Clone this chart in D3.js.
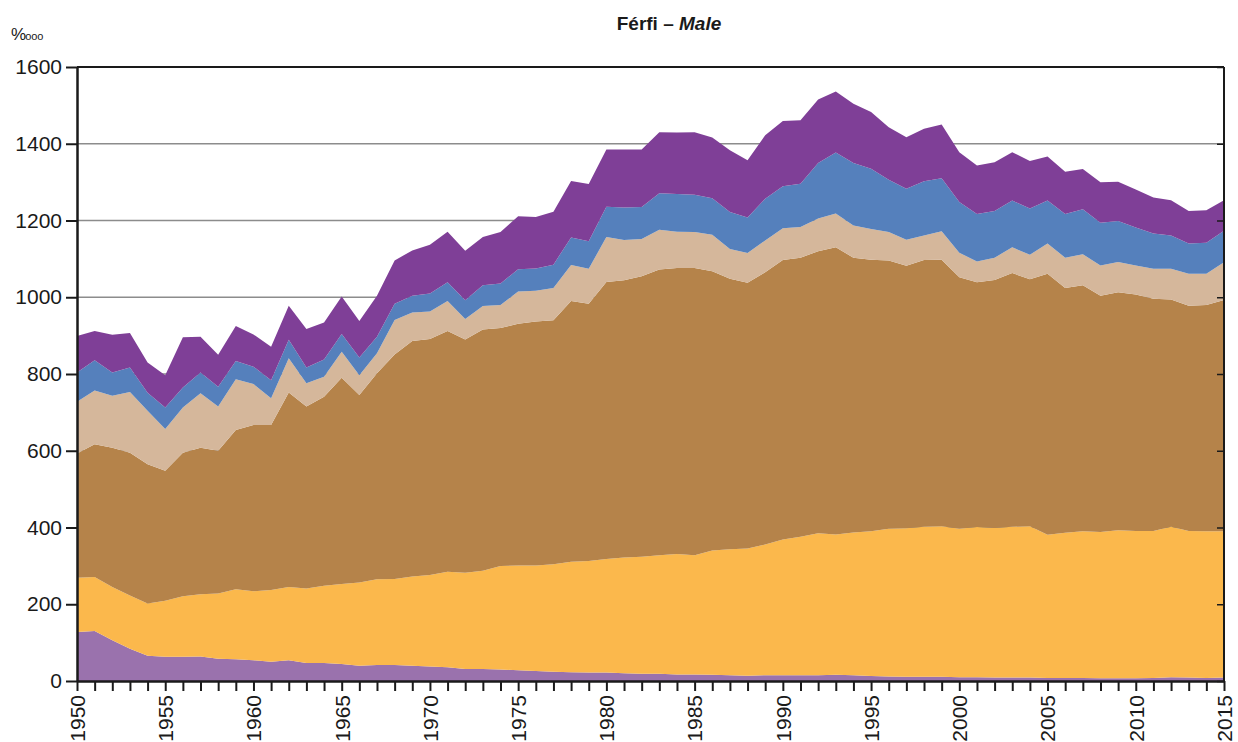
<!DOCTYPE html>
<html>
<head>
<meta charset="utf-8">
<script src="https://cdn.jsdelivr.net/npm/d3@7/dist/d3.min.js"></script>
<style>
  html, body { margin: 0; padding: 0; background: #fff; }
  svg { display: block; }
  .lbl { font-family: "Liberation Sans Narrow", "Arial Narrow", "Liberation Sans", Arial, sans-serif; fill: #1a1a1a; }
</style>
</head>
<body>
<svg id="chart" width="1238" height="742"></svg>
<script>
// Years on the horizontal axis
const years = [
  1950,1951,1952,1953,1954,1955,1956,1957,1958,1959,
  1960,1961,1962,1963,1964,1965,1966,1967,1968,1969,
  1970,1971,1972,1973,1974,1975,1976,1977,1978,1979,
  1980,1981,1982,1983,1984,1985,1986,1987,1988,1989,
  1990,1991,1992,1993,1994,1995,1996,1997,1998,1999,
  2000,2001,2002,2003,2004,2005,2006,2007,2008,2009,
  2010,2011,2012,2013,2014,2015
];

// Rates per 100 000, one array per stacked band (bottom to top)
const band1 = [128,130,106,84,66,63,63,64,58,57, 54,50,54,47,47,44,40,42,42,40,
  38,36,31,31,30,28,26,24,23,22, 22,20,19,19,17,17,16,15,14,15,
  15,15,15,16,15,13,12,11,11,11, 10,10,9,9,9,8,8,8,7,7, 7,8,10,9,8,9];
const band2 = [141,141,139,139,136,146,158,162,170,182, 180,187,191,194,201,209,217,223,224,232,
  238,249,251,256,270,273,275,280,288,291, 296,302,305,309,314,311,324,328,331,341,
  354,361,370,366,372,377,385,387,391,392, 387,391,390,393,394,373,378,382,381,386, 384,383,392,382,382,381];
const band3 = [324,346,363,372,363,339,374,382,372,415, 433,430,507,474,493,537,488,537,585,614,
  615,627,608,629,620,630,636,636,679,670, 722,722,731,744,745,748,728,705,693,709,
  728,727,735,748,716,708,699,684,695,695, 655,638,646,661,644,680,638,641,616,620, 616,605,592,587,590,603];
const band4 = [135,140,135,158,139,109,118,142,115,132, 107,70,89,61,52,68,52,52,90,74,
  72,78,53,61,60,84,80,84,94,91, 117,105,97,104,95,94,95,78,77,83,
  83,80,85,88,84,80,74,68,64,74, 64,54,58,67,64,79,79,81,79,79, 76,78,80,83,81,98];
const band5 = [76,79,61,64,47,56,52,54,52,48, 45,47,48,41,45,46,46,43,42,44,
  47,49,49,54,56,58,58,61,72,72, 79,85,83,95,98,97,95,96,93,109,
  109,113,145,159,163,157,136,133,141,138, 132,124,122,122,120,112,114,117,111,107, 99,92,87,79,81,82];
const band6 = [95,76,98,90,79,84,131,93,83,91, 84,87,89,100,96,98,95,107,113,118,
  127,132,129,126,134,138,134,138,147,149, 149,151,150,159,160,163,158,161,149,165,
  170,165,165,159,154,148,137,134,137,140, 130,126,127,126,124,115,110,105,106,102, 99,94,92,85,85,80];

const bandKeys = ["band1", "band2", "band3", "band4", "band5", "band6"];
const bandColors = ["#9a72ad", "#fbb84c", "#b5834a", "#d5b79b", "#5580bc", "#7f3f97"];

// Axis tick values
const yTicks = [0, 200, 400, 600, 800, 1000, 1200, 1400, 1600];
const xLabelYears = [1950, 1955, 1960, 1965, 1970, 1975, 1980, 1985, 1990, 1995, 2000, 2005, 2010, 2015];

const rows = years.map((yr, i) => ({
  year: yr,
  band1: band1[i], band2: band2[i], band3: band3[i],
  band4: band4[i], band5: band5[i], band6: band6[i]
}));

const svg = d3.select("#chart");
const margin = { left: 77, right: 14, top: 67, bottom: 61 };
const W = 1238, H = 742;

const x = d3.scaleLinear()
  .domain([1950, 2015])
  .range([margin.left, W - margin.right]);
const y = d3.scaleLinear()
  .domain([0, 1600])
  .range([H - margin.bottom, margin.top]);

// Horizontal gridlines
svg.append("g")
  .selectAll("line")
  .data(yTicks.filter(v => v > 0 && v < 1600))
  .join("line")
  .attr("x1", x.range()[0]).attr("x2", x.range()[1])
  .attr("y1", d => y(d)).attr("y2", d => y(d))
  .attr("stroke", "#8c8c8c").attr("stroke-width", 1.5);

// Stacked areas
const series = d3.stack().keys(bandKeys)(rows);
const area = d3.area()
  .x(d => x(d.data.year))
  .y0(d => y(d[0]))
  .y1(d => y(d[1]));

svg.append("g")
  .selectAll("path")
  .data(series)
  .join("path")
  .attr("d", area)
  .attr("fill", (d, i) => bandColors[i]);

// Frame: top and right edges
svg.append("line")
  .attr("x1", x.range()[0]).attr("x2", x.range()[1])
  .attr("y1", y(1600)).attr("y2", y(1600))
  .attr("stroke", "#1a1a1a").attr("stroke-width", 2);
svg.append("line")
  .attr("x1", x.range()[1]).attr("x2", x.range()[1])
  .attr("y1", y(1600)).attr("y2", y(0))
  .attr("stroke", "#1a1a1a").attr("stroke-width", 2);

// Inner ticks on the right edge
svg.append("g")
  .attr("transform", `translate(${x.range()[1]},0)`)
  .call(d3.axisLeft(y).tickValues(yTicks).tickSize(7).tickFormat(""))
  .call(g => g.select(".domain").remove())
  .call(g => g.selectAll(".tick line").attr("stroke", "#1a1a1a").attr("stroke-width", 1.5));

// Left axis
svg.append("g")
  .attr("transform", `translate(${margin.left},0)`)
  .call(d3.axisLeft(y).tickValues(yTicks).tickSize(11).tickSizeOuter(0).tickPadding(4)
    .tickFormat(d3.format("d")))
  .call(g => g.select(".domain").attr("stroke", "#1a1a1a").attr("stroke-width", 2.5))
  .call(g => g.selectAll(".tick line").attr("stroke", "#1a1a1a").attr("stroke-width", 2))
  .call(g => g.selectAll(".tick text")
    .attr("class", "lbl")
    .attr("font-size", 21)
    .attr("fill", "#1a1a1a"));

// Bottom axis: a tick every year, labels every five years
svg.append("g")
  .attr("transform", `translate(0,${y(0)})`)
  .call(d3.axisBottom(x).tickValues(years).tickSize(10).tickSizeOuter(0)
    .tickFormat(d => xLabelYears.includes(d) ? String(d) : ""))
  .call(g => g.select(".domain").attr("stroke", "#1a1a1a").attr("stroke-width", 2.5))
  .call(g => g.selectAll(".tick line").attr("stroke", "#1a1a1a").attr("stroke-width", 2))
  .call(g => g.selectAll(".tick text")
    .attr("class", "lbl")
    .attr("font-size", 21)
    .attr("fill", "#1a1a1a")
    .attr("text-anchor", "end")
    .attr("dy", "0.35em")
    .attr("transform", "translate(0,14) rotate(-90)")
    .attr("x", 0).attr("y", 0));

// Unit label
const unit = svg.append("text")
  .attr("class", "lbl")
  .attr("x", 11).attr("y", 40)
  .attr("font-size", 17);
unit.append("tspan").text("%");
unit.append("tspan").attr("font-size", 11).attr("dx", -1).text("ooo");

// Title
const title = svg.append("text")
  .attr("class", "lbl")
  .attr("x", 669).attr("y", 30)
  .attr("text-anchor", "middle")
  .attr("font-size", 19)
  .attr("font-weight", "bold");
title.append("tspan").text("Férfi – ");
title.append("tspan").attr("font-style", "italic").text("Male");
</script>
</body>
</html>
